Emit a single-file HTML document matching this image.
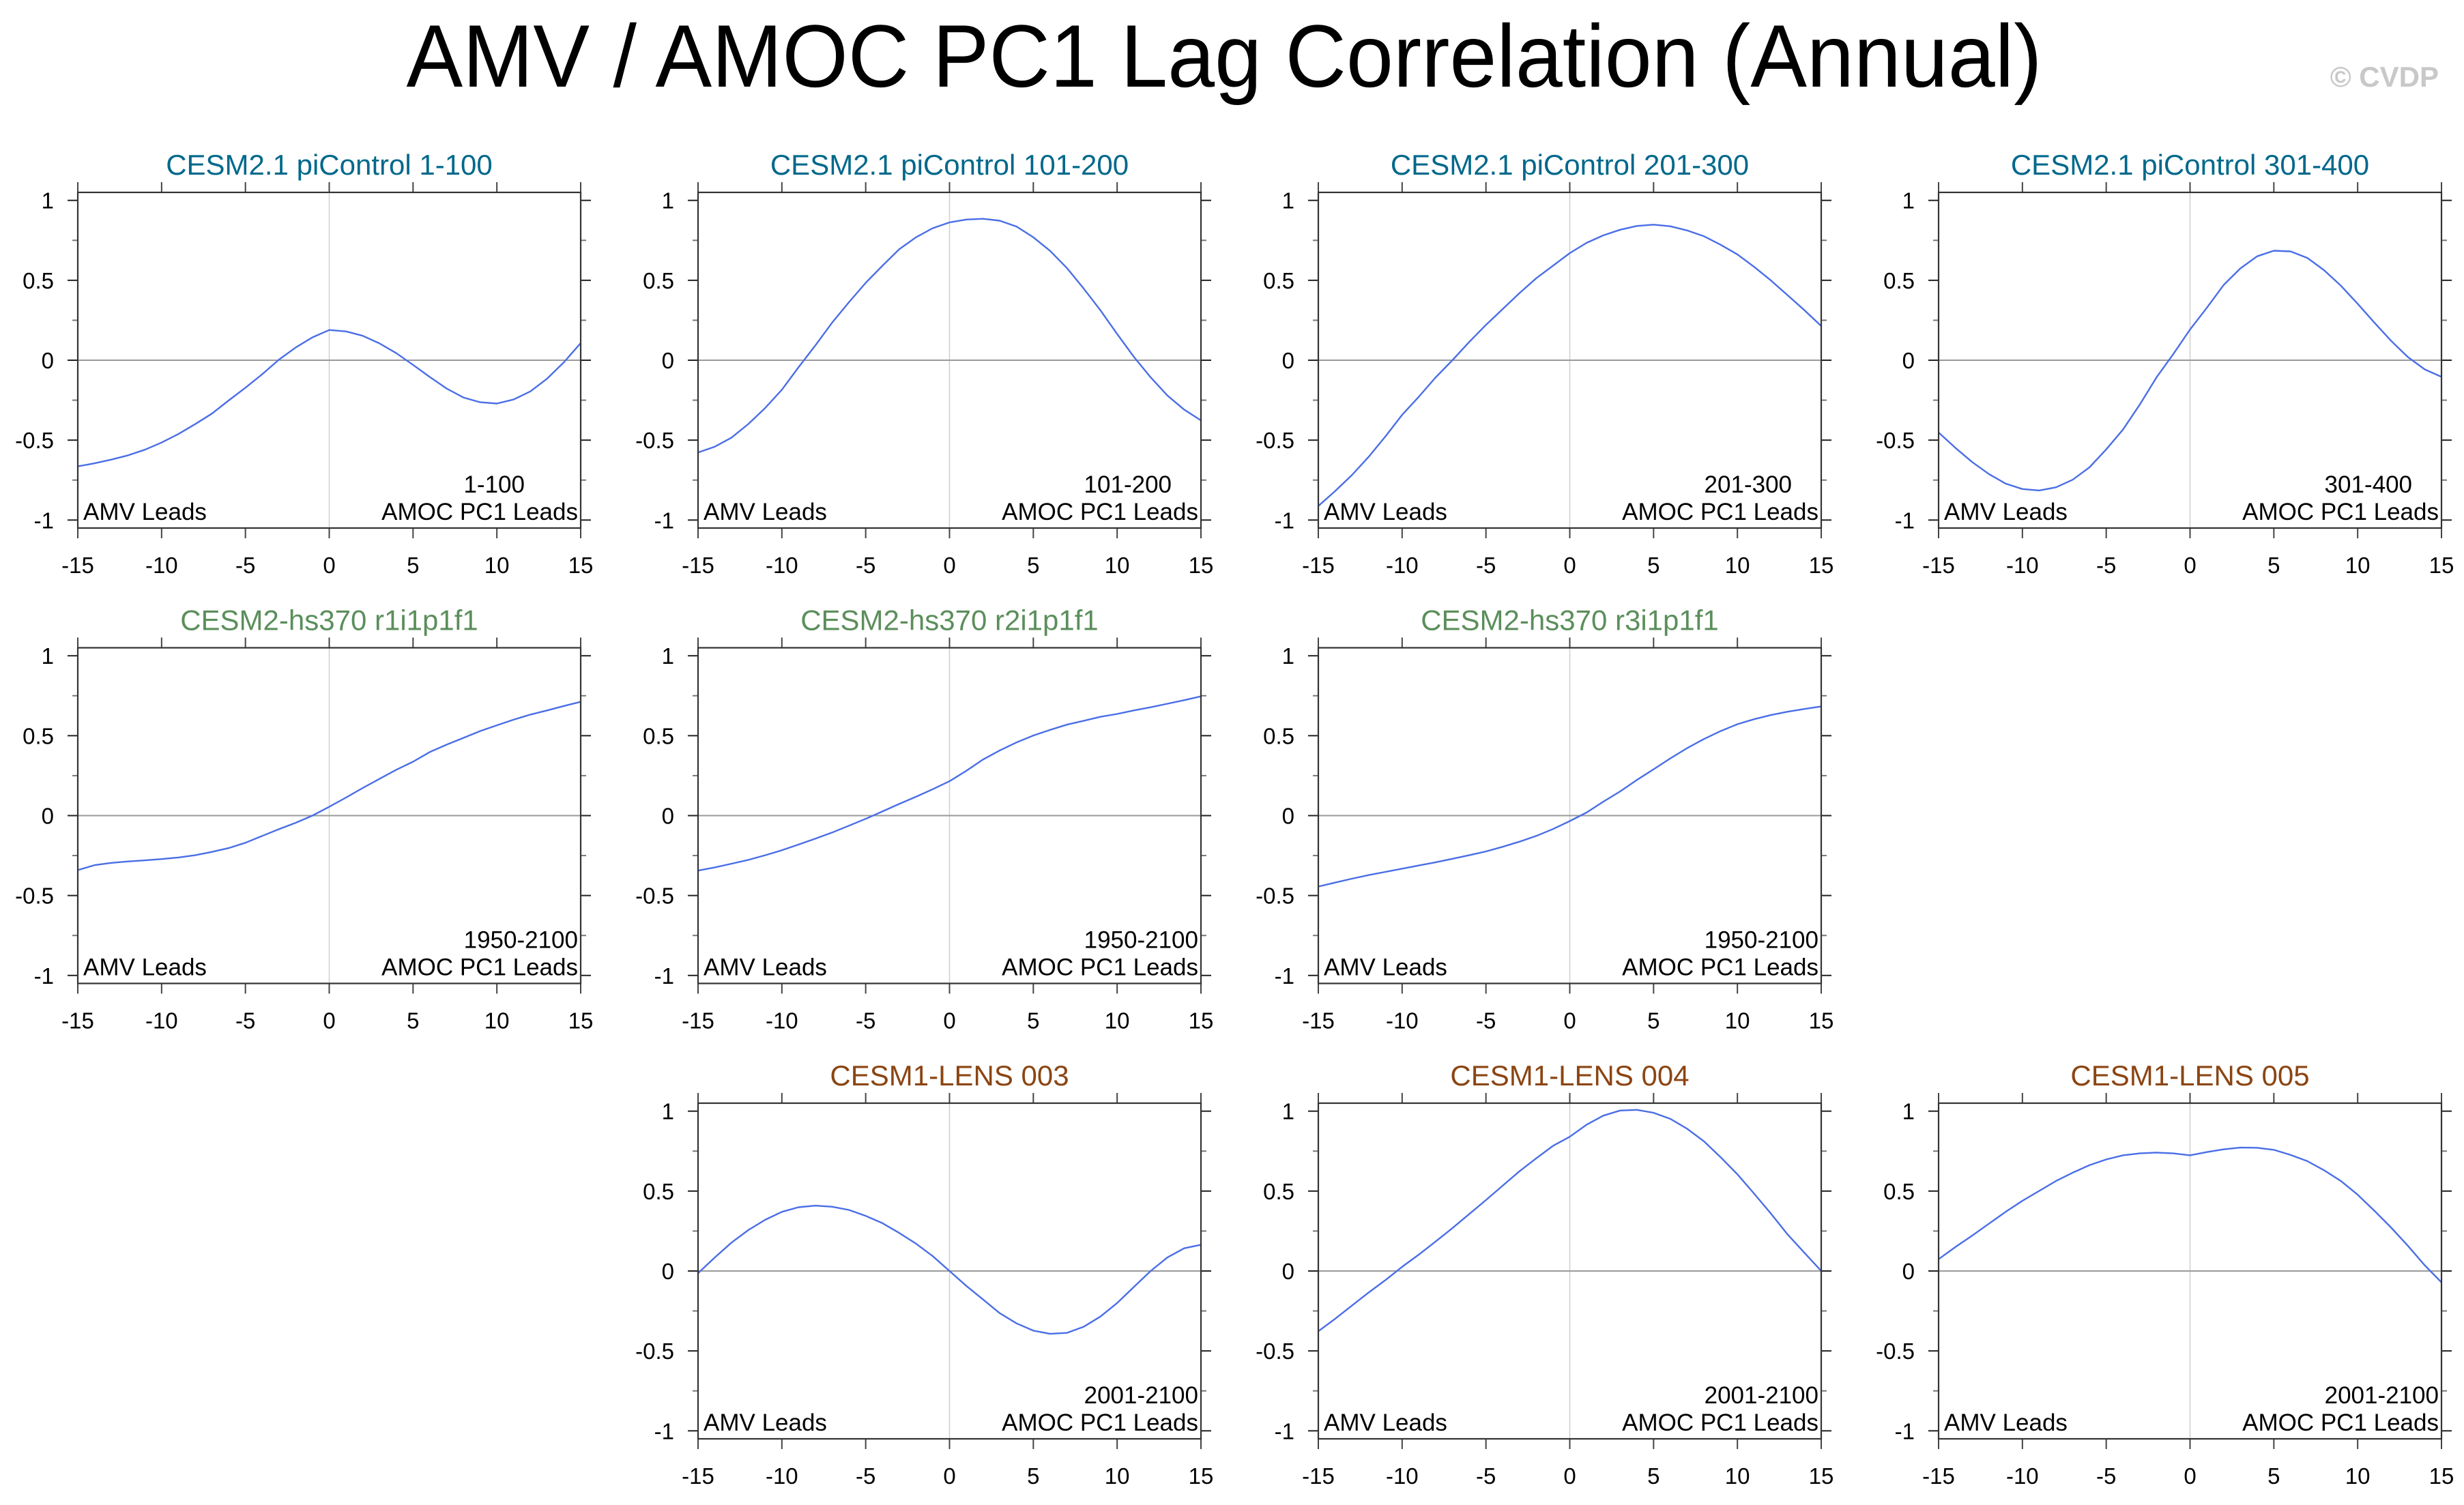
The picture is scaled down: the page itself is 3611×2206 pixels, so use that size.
<!DOCTYPE html>
<html><head><meta charset="utf-8">
<style>
html,body{margin:0;padding:0;background:#fff;}
svg{display:block;font-family:"Liberation Sans",Arial,sans-serif;}
</style></head>
<body>
<svg id="chart" width="3611" height="2206" viewBox="0 0 3611 2206" xmlns="http://www.w3.org/2000/svg">
<rect width="3611" height="2206" fill="#fff"/>
<text x="1794" y="127" font-size="130" text-anchor="middle" textLength="2397" lengthAdjust="spacingAndGlyphs" fill="#000">AMV / AMOC PC1 Lag Correlation (Annual)</text>
<text x="3574" y="127" font-size="42" font-weight="bold" text-anchor="end" fill="#c8c8c8">© CVDP</text>
<g id="panels"></g>
</svg>
<script>
const lags = [-15,-14,-13,-12,-11,-10,-9,-8,-7,-6,-5,-4,-3,-2,-1,0,1,2,3,4,5,6,7,8,9,10,11,12,13,14,15];
const yTickValues = [1,0.5,0,-0.5,-1];
const yTickLabels = ["1","0.5","0","-0.5","-1"];
const xTickValues = [-15,-10,-5,0,5,10,15];
const xTickLabels = ["-15","-10","-5","0","5","10","15"];
const panelTitles = ["CESM2.1 piControl 1-100","CESM2.1 piControl 101-200","CESM2.1 piControl 201-300","CESM2.1 piControl 301-400","CESM2-hs370 r1i1p1f1","CESM2-hs370 r2i1p1f1","CESM2-hs370 r3i1p1f1","CESM1-LENS 003","CESM1-LENS 004","CESM1-LENS 005"];
const periodLabels = ["1-100","101-200","201-300","301-400","1950-2100","1950-2100","1950-2100","2001-2100","2001-2100","2001-2100"];
const corr1 = [-0.664,-0.645,-0.622,-0.595,-0.56,-0.515,-0.462,-0.40,-0.334,-0.252,-0.172,-0.088,0.004,0.08,0.143,0.189,0.18,0.153,0.105,0.044,-0.029,-0.105,-0.177,-0.233,-0.263,-0.271,-0.246,-0.195,-0.115,-0.013,0.107];
const corr2 = [-0.577,-0.541,-0.484,-0.399,-0.299,-0.185,-0.043,0.093,0.235,0.363,0.484,0.591,0.694,0.769,0.826,0.862,0.88,0.885,0.873,0.836,0.769,0.684,0.577,0.449,0.313,0.164,0.021,-0.107,-0.221,-0.309,-0.377];
const corr3 = [-0.912,-0.819,-0.719,-0.605,-0.477,-0.342,-0.228,-0.107,0,0.114,0.221,0.32,0.42,0.513,0.591,0.67,0.734,0.781,0.816,0.84,0.848,0.838,0.812,0.776,0.722,0.662,0.584,0.499,0.406,0.313,0.214];
const corr4 = [-0.452,-0.548,-0.637,-0.712,-0.772,-0.806,-0.815,-0.795,-0.748,-0.67,-0.558,-0.434,-0.278,-0.107,0.038,0.192,0.328,0.47,0.574,0.65,0.685,0.681,0.64,0.563,0.466,0.353,0.235,0.121,0.019,-0.057,-0.104];
const corr5 = [-0.341,-0.31,-0.296,-0.287,-0.28,-0.272,-0.262,-0.248,-0.227,-0.203,-0.17,-0.127,-0.085,-0.045,0.0,0.055,0.113,0.173,0.23,0.287,0.337,0.398,0.444,0.486,0.529,0.565,0.6,0.632,0.658,0.686,0.712];
const corr6 = [-0.344,-0.324,-0.301,-0.277,-0.248,-0.217,-0.181,-0.144,-0.106,-0.063,-0.02,0.026,0.073,0.118,0.165,0.215,0.28,0.351,0.408,0.458,0.501,0.536,0.569,0.593,0.618,0.636,0.658,0.678,0.7,0.722,0.746];
const corr7 = [-0.444,-0.419,-0.395,-0.372,-0.352,-0.332,-0.312,-0.292,-0.27,-0.248,-0.224,-0.195,-0.163,-0.127,-0.084,-0.034,0.019,0.087,0.151,0.223,0.29,0.358,0.422,0.479,0.529,0.572,0.603,0.629,0.65,0.667,0.683];
const corr8 = [-0.014,0.085,0.178,0.256,0.32,0.37,0.399,0.409,0.402,0.382,0.345,0.299,0.238,0.171,0.093,0,-0.093,-0.178,-0.264,-0.328,-0.373,-0.393,-0.387,-0.349,-0.285,-0.2,-0.1,0,0.085,0.142,0.164];
const corr9 = [-0.377,-0.299,-0.217,-0.135,-0.057,0.026,0.103,0.185,0.268,0.356,0.444,0.534,0.624,0.705,0.783,0.84,0.915,0.972,1.004,1.008,0.99,0.952,0.89,0.812,0.712,0.605,0.484,0.359,0.228,0.114,0.0];
const corr10 = [0.074,0.15,0.221,0.296,0.37,0.439,0.501,0.563,0.615,0.662,0.698,0.724,0.736,0.741,0.736,0.724,0.744,0.761,0.772,0.771,0.758,0.726,0.687,0.63,0.563,0.477,0.377,0.271,0.157,0.036,-0.071];
const allSeries = [corr1,corr2,corr3,corr4,corr5,corr6,corr7,corr8,corr9,corr10];

const NS = "http://www.w3.org/2000/svg";
const colLeft = [114,1023,1932,2841];
const rowTop = [282,949.5,1617];
const PW = 737, PH = 492, YMAX = 1.05, XMIN = -15, XMAX = 15;
const slots = [[0,0],[0,1],[0,2],[0,3],[1,0],[1,1],[1,2],[2,1],[2,2],[2,3]];
const titleColors = ["#00688b","#00688b","#00688b","#00688b","#5b8e5b","#5b8e5b","#5b8e5b","#8b4513","#8b4513","#8b4513"];
const root = document.getElementById("panels");

function mk(tag, attrs, parent){
  const el = document.createElementNS(NS, tag);
  for (const k in attrs) el.setAttribute(k, attrs[k]);
  parent.appendChild(el);
  return el;
}

for (let p = 0; p < allSeries.length; p++){
  const L = colLeft[slots[p][1]], T = rowTop[slots[p][0]];
  const R = L + PW, B = T + PH;
  const xs = v => L + (v - XMIN) / (XMAX - XMIN) * PW;
  const ys = v => T + (YMAX - v) / (2 * YMAX) * PH;
  const g = mk("g", {}, root);
  
  

  const t = mk("text", {x: L + PW/2, y: T - 26, "font-size": 42, "text-anchor": "middle", fill: titleColors[p]}, g);
  
  
  t.textContent = panelTitles[p];

  const vl = mk("line", {x1: xs(0), x2: xs(0), y1: T, y2: B, stroke: "#cfcfcf", "stroke-width": 1.5}, g);
  
  
  const hl = mk("line", {x1: L, x2: R, y1: ys(0), y2: ys(0), stroke: "#9a9a9a", "stroke-width": 2}, g);
  
  

  for (let v = -1; v <= 1.001; v += 0.25){
    const y = ys(v);
    const isMajor = Math.abs(v*2 - Math.round(v*2)) < 1e-6;
    const len = isMajor ? 15 : 8;
    const c = isMajor ? "#222" : "#777";
    const a = mk("line", {x1: L - len, x2: L, y1: y, y2: y, stroke: c, "stroke-width": 2}, g);
    
    
    const b = mk("line", {x1: R, x2: R + len, y1: y, y2: y, stroke: c, "stroke-width": 2}, g);
    
    
  }
  for (let i = 0; i < yTickValues.length; i++){
    const tl = mk("text", {x: L - 35, y: ys(yTickValues[i]) + 12, "font-size": 33, "text-anchor": "end", fill: "#000"}, g);
    
    
    tl.textContent = yTickLabels[i];
  }
  for (let i = 0; i < xTickValues.length; i++){
    const x = xs(xTickValues[i]);
    const a = mk("line", {x1: x, x2: x, y1: T - 15, y2: T, stroke: "#444", "stroke-width": 2}, g);
    
    
    const b = mk("line", {x1: x, x2: x, y1: B, y2: B + 15, stroke: "#444", "stroke-width": 2}, g);
    
    
    const tl = mk("text", {x: x, y: B + 66, "font-size": 33, "text-anchor": "middle", fill: "#000"}, g);
    
    
    tl.textContent = xTickLabels[i];
  }

  const s = allSeries[p];
  let d = "";
  for (let i = 0; i < lags.length; i++) d += (i ? "L" : "M") + xs(lags[i]).toFixed(1) + "," + ys(s[i]).toFixed(1);
  const path = mk("path", {d: d, fill: "none", stroke: "#4a6ee6", "stroke-width": 2.4, "stroke-linejoin": "round"}, g);
  
  

  const fr = mk("rect", {x: L, y: T, width: PW, height: PH, fill: "none", stroke: "#333", "stroke-width": 2.2}, g);
  
  

  const a1 = mk("text", {x: L + 8, y: B - 12, "font-size": 35, fill: "#000"}, g);
  
  
  a1.textContent = "AMV Leads";
  const a2 = mk("text", {x: R - 4, y: B - 12, "font-size": 35, "text-anchor": "end", fill: "#000"}, g);
  
  
  a2.textContent = "AMOC PC1 Leads";
  const pl = periodLabels[p];
  const a3 = mk("text", {x: R - 4 - (9 - pl.length) * 19.5, y: B - 52, "font-size": 35, "text-anchor": "end", fill: "#000"}, g);
  
  
  a3.textContent = pl;
}
</script>
</body></html>
